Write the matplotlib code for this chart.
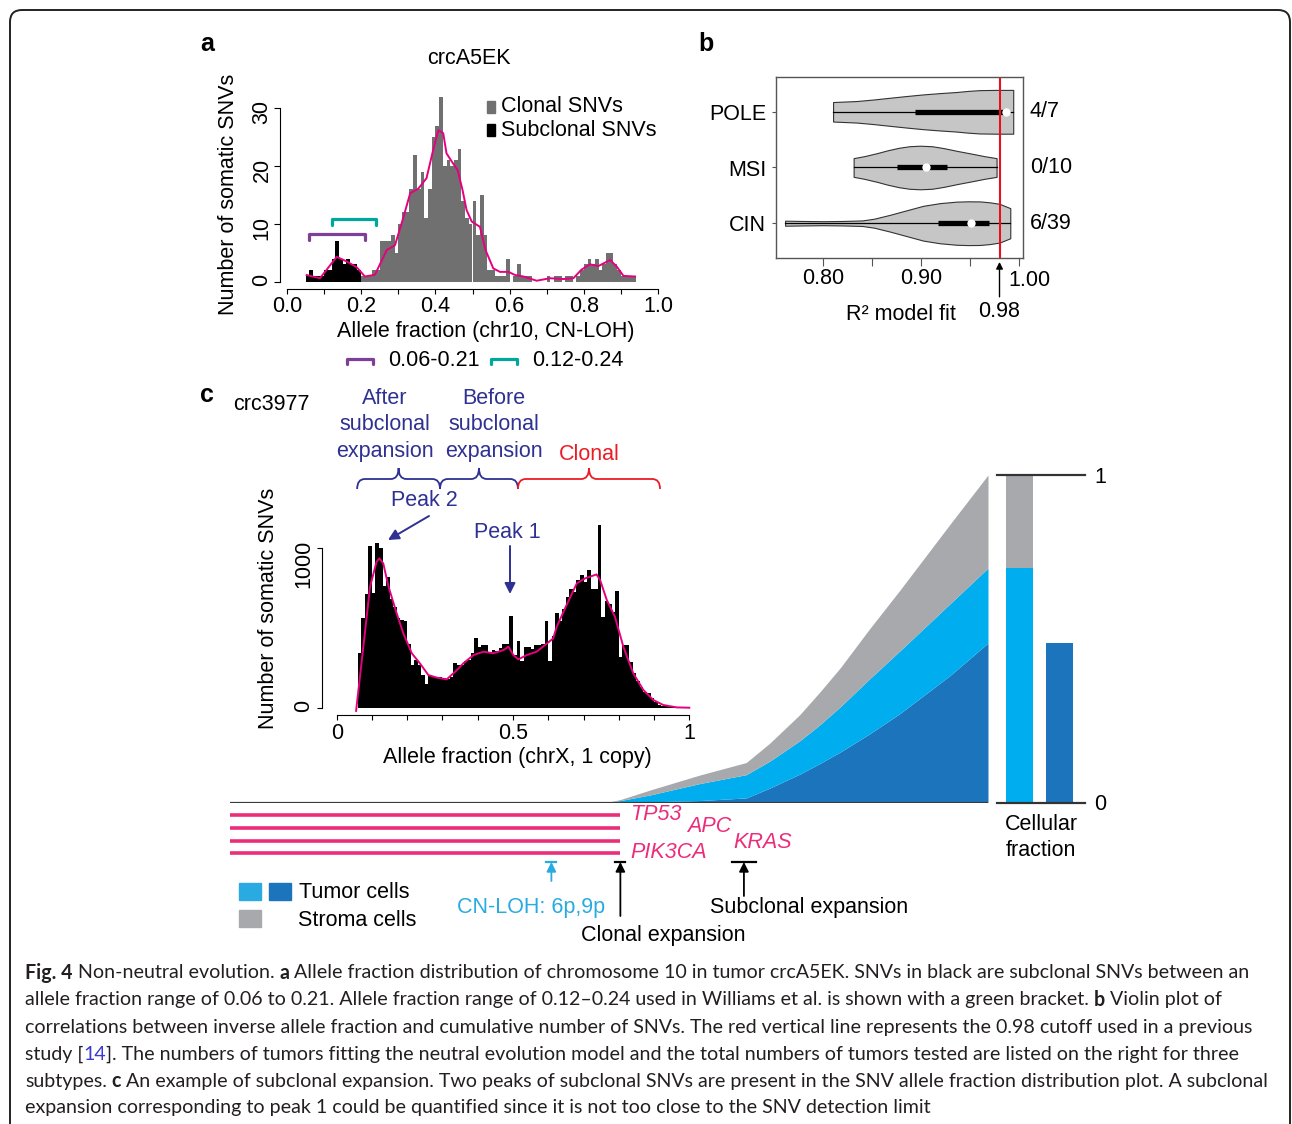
import numpy as np
import matplotlib
matplotlib.use("Agg")
import matplotlib.pyplot as plt
from matplotlib import font_manager
from matplotlib.path import Path
from matplotlib.patches import PathPatch, Rectangle, FancyBboxPatch
from matplotlib.transforms import blended_transform_factory

# ---------------- data ----------------
# a: crcA5EK, chr10 allele fraction histogram (bins of 0.01)
a_bin_width = 0.01
a_subclonal_start = 0.05
a_subclonal_counts = [1, 2, 1, 1, 1, 2, 2, 4, 7, 4, 3, 4, 3, 3, 2]
a_clonal_start = 0.20
a_clonal_counts = [1, 1, 1, 2, 2, 7, 7, 7, 8, 5,
                   10, 12, 12, 16, 22, 16, 19, 11, 16, 25,
                   27, 32, 20, 21, 20, 21, 23, 14, 11, 10,
                   14, 8, 15, 8, 2, 2, 1, 1, 1, 4,
                   0, 1, 3, 1, 1, 1, 0, 0, 0, 0,
                   1, 0, 1, 1, 0, 1, 1, 0, 1, 2,
                   3, 4, 3, 4, 2, 3, 5, 5, 3, 2,
                   1, 1, 1, 1]
a_density_x = [0.053, 0.089, 0.134, 0.161, 0.188, 0.210, 0.237, 0.269, 0.291, 0.314,
               0.332, 0.354, 0.376, 0.394, 0.408, 0.421, 0.430, 0.444, 0.460, 0.473,
               0.484, 0.498, 0.520, 0.535, 0.556, 0.574, 0.597, 0.615, 0.637, 0.673,
               0.709, 0.745, 0.772, 0.794, 0.817, 0.839, 0.871, 0.889, 0.907, 0.938]
a_density_y = [1.15, 0.6, 4.3, 3.5, 2.5, 0.9, 1.2, 5.5, 6.3, 11.2,
               15.3, 16.1, 17.9, 22.8, 26.2, 25.7, 22.2, 20.8, 19.3, 15.9,
               12.4, 10.4, 9.5, 5.5, 2.3, 1.7, 1.7, 1.15, 0.9, 0.17,
               0.6, 0.46, 0.6, 2.1, 3.0, 2.7, 3.75, 2.6, 1.0, 0.9]
a_range_labels = ["0.06-0.21", "0.12-0.24"]
a_range_lo = [0.06, 0.12]
a_range_hi = [0.21, 0.24]

# b: R^2 of the neutral model fit
b_groups = ["POLE", "MSI", "CIN"]
b_fit = ["4/7", "0/10", "6/39"]
pole_r2 = [0.810, 0.834, 0.851, 0.868, 0.885, 0.902, 0.919, 0.936, 0.948, 0.960, 0.977, 0.994]
pole_dens = [0.175, 0.193, 0.220, 0.252, 0.283, 0.312, 0.335, 0.355, 0.375, 0.389, 0.393, 0.393]
msi_r2 = [0.831, 0.842, 0.855, 0.866, 0.877, 0.888, 0.899, 0.911, 0.923, 0.937, 0.952, 0.965, 0.977]
msi_dens = [0.168, 0.204, 0.258, 0.310, 0.353, 0.382, 0.391, 0.382, 0.348, 0.297, 0.247, 0.202, 0.168]
cin_r2 = [0.761, 0.780, 0.800, 0.820, 0.840, 0.852, 0.868, 0.885, 0.902, 0.919, 0.936, 0.948,
          0.960, 0.970, 0.980, 0.991]
cin_dens = [0.045, 0.040, 0.036, 0.040, 0.050, 0.081, 0.150, 0.231, 0.312, 0.360, 0.387, 0.393,
            0.391, 0.375, 0.348, 0.270]
b_q1 = [0.894, 0.875, 0.9175]
b_median = [0.987, 0.905, 0.951]
b_q3 = [0.989, 0.926, 0.969]
b_cutoff = 0.98

# c: crc3977, chrX allele fraction histogram (bins of 0.01)
c_bin_width = 0.01
c_bin_start = 0.06
c_counts = [340, 560, 710, 1010, 715, 1030, 1000, 760, 820, 680,
            630, 560, 550, 545, 400, 265, 300, 265, 205, 150,
            205, 200, 195, 190, 185, 180, 190, 280, 270, 265,
            290, 300, 340, 435, 380, 390, 390, 350, 360, 355,
            375, 400, 400, 575, 330, 420, 290, 380, 380, 370,
            390, 395, 400, 540, 290, 450, 590, 540, 620, 695,
            745, 725, 800, 830, 785, 860, 745, 745, 1140, 570,
            670, 650, 600, 730, 320, 390, 390, 285, 215, 165,
            130, 100, 95, 60, 38, 20, 12, 8, 5, 4,
            3, 2, 2, 1]
c_density_x = [0.055, 0.0756, 0.0945, 0.113, 0.121, 0.132, 0.147, 0.170, 0.189, 0.213,
               0.236, 0.260, 0.284, 0.312, 0.336, 0.359, 0.388, 0.416, 0.444, 0.473,
               0.487, 0.501, 0.515, 0.539, 0.567, 0.591, 0.614, 0.624, 0.652, 0.681,
               0.704, 0.737, 0.747, 0.766, 0.789, 0.813, 0.841, 0.870, 0.898, 0.926,
               0.964, 1.0]
c_density_y = [-20, 381, 756, 912, 933, 902, 756, 590, 465, 340,
               277, 204, 188, 177, 225, 277, 329, 350, 340, 360,
               381, 329, 302, 329, 350, 392, 433, 506, 642, 777,
               808, 833, 798, 673, 569, 381, 215, 110, 48, 17,
               2, 0]
c_region_edges = [0.058, 0.293, 0.514, 0.917]
c_region_labels = [["After", "subclonal", "expansion"], ["Before", "subclonal", "expansion"], ["Clonal"]]

# clonal evolution schematic (cellular fraction over time)
evo_time = [0.0, 0.496, 0.515, 0.554, 0.620, 0.681, 0.712, 0.752, 0.778, 0.805, 0.844, 0.884, 0.950, 1.0]
evo_total = [0, 0, 0.009, 0.038, 0.084, 0.122, 0.181, 0.269, 0.337, 0.411, 0.531, 0.649, 0.85, 1.0]
evo_tumor = [0, 0, 0.006, 0.023, 0.058, 0.085, 0.126, 0.189, 0.237, 0.292, 0.378, 0.4635, 0.607, 0.716]
evo_subclone = [0, 0, 0, 0.002, 0.006, 0.014, 0.044, 0.087, 0.119, 0.154, 0.21, 0.272, 0.388, 0.487]
cnloh_time = 0.424
clonal_time = 0.515
subclonal_time = 0.678

# ---------------- style ----------------
W, H = 1292, 1124
FS = 15.5
MAGENTA = "#e5007e"
NAVY = "#2e3192"
RED = "#ed1c24"
LIGHT_BLUE = "#00aeef"
DARK_BLUE = "#1c75bc"
STROMA = "#a7a9ac"
PINK = "#ec2d7a"
CYAN = "#29abe2"

plt.rcParams['font.family'] = ['Liberation Sans', 'DejaVu Sans']
available = {f.name for f in font_manager.fontManager.ttflist}
cap_font = next(f for f in ["Lato", "Open Sans", "Liberation Sans"] if f in available)

fig = plt.figure(figsize=(W / 100, H / 100), dpi=100)


def px_axes(left, top, right, bottom):
    ax = fig.add_axes([left / W, 1 - bottom / H, (right - left) / W, (bottom - top) / H])
    ax.patch.set_alpha(0)
    return ax


def pt(p):
    return p * 72 / 100


# ---------------- panel a ----------------
axa = px_axes(287, 90, 658, 281.7)
sub_edges = a_subclonal_start + a_bin_width * np.arange(len(a_subclonal_counts))
clo_edges = a_clonal_start + a_bin_width * np.arange(len(a_clonal_counts))
axa.bar(clo_edges, a_clonal_counts, width=a_bin_width, align='edge', color='#707070', lw=0)
axa.bar(sub_edges, a_subclonal_counts, width=a_bin_width, align='edge', color='black', lw=0)
axa.plot(a_density_x, a_density_y, color=MAGENTA, lw=1.4)
for lo, hi, yv, col in zip(a_range_lo, a_range_hi, [8.25, 10.8], ["#7e3f98", "#00a79d"]):
    axa.plot([lo, lo, hi, hi], [yv - 1, yv, yv, yv - 1], color=col, lw=pt(3.2),
             solid_joinstyle='round', solid_capstyle='round')
axa.set_xlim(0, 1)
axa.set_ylim(0, (281.7 - 90) / 5.78)
for s in ['top', 'right']:
    axa.spines[s].set_visible(False)
axa.spines['left'].set_position(('outward', pt(7)))
axa.spines['bottom'].set_position(('outward', pt(7.3)))
axa.spines['left'].set_bounds(0, 30)
axa.spines['bottom'].set_bounds(0, 1)
axa.set_yticks([0, 10, 20, 30])
axa.set_xticks([i / 10 for i in range(11)])
axa.set_xticklabels(['0.0', '', '0.2', '', '0.4', '', '0.6', '', '0.8', '', '1.0'])
axa.tick_params(axis='y', labelrotation=90, length=pt(6), labelsize=FS, pad=pt(1.5))
axa.tick_params(axis='x', length=pt(5), labelsize=FS, pad=pt(2))

# ---------------- panel b ----------------
axb = px_axes(776, 76.7, 1023.3, 258.3)
for i, (r2, dens) in enumerate([(pole_r2, pole_dens), (msi_r2, msi_dens), (cin_r2, cin_dens)]):
    pos = i + 1
    r2 = np.array(r2)
    dens = np.array(dens)
    axb.fill_between(r2, pos - dens, pos + dens, facecolor='#c6c6c6', edgecolor='#333333', lw=0.8)
    axb.plot([r2[0], r2[-1]], [pos, pos], color='black', lw=0.9)
    axb.plot([b_q1[i], b_q3[i]], [pos, pos], color='black', lw=3.8, solid_capstyle='butt')
    axb.plot(b_median[i], pos, 'o', color='white', ms=6, mec='none', zorder=5)
    axb.text(1.027, pos, b_fit[i], transform=blended_transform_factory(axb.transAxes, axb.transData),
             fontsize=FS, ha='left', va='center')
axb.axvline(b_cutoff, color='#e8101a', lw=1.5)
axb.set_xlim(0.7517, 1.0043)
axb.set_ylim(3.63, 0.37)
for s in axb.spines.values():
    s.set_color('#555555')
    s.set_linewidth(1)
axb.set_xticks([0.80, 0.85, 0.90, 0.95, 1.00])
axb.set_xticklabels(['0.80', '', '0.90', '', ''])
axb.set_yticks([1, 2, 3])
axb.set_yticklabels(b_groups)
axb.tick_params(axis='x', length=pt(8), labelsize=FS, pad=pt(2), color='#555555')
axb.tick_params(axis='y', length=pt(4), labelsize=FS, pad=pt(6), color='#555555')
axb.annotate('0.98', xy=(b_cutoff, -0.02), xycoords=('data', 'axes fraction'),
             xytext=(b_cutoff, -0.235), textcoords=('data', 'axes fraction'),
             fontsize=FS, ha='center', va='top',
             arrowprops=dict(arrowstyle='-|>', color='black', lw=1, shrinkA=1, shrinkB=0,
                             mutation_scale=10))

# ---------------- panel c histogram ----------------
axc = px_axes(336.7, 520, 689.3, 707.7)
c_edges = c_bin_start + c_bin_width * np.arange(len(c_counts))
axc.bar(c_edges, c_counts, width=c_bin_width, align='edge', color='black', lw=0)
axc.plot(c_density_x, c_density_y, color=MAGENTA, lw=1.4, clip_on=False)
axc.set_xlim(0, 1)
axc.set_ylim(0, (707.7 - 520) / 0.16)
for s in ['top', 'right']:
    axc.spines[s].set_visible(False)
axc.spines['left'].set_position(('outward', pt(15)))
axc.spines['bottom'].set_position(('outward', pt(7.3)))
axc.spines['left'].set_bounds(0, 1000)
axc.spines['bottom'].set_bounds(0, 1)
axc.set_yticks([0, 1000])
axc.set_xticks([i / 10 for i in range(11)])
axc.set_xticklabels(['0', '', '', '', '', '0.5', '', '', '', '', '1'])
axc.tick_params(axis='y', labelrotation=90, length=pt(5), labelsize=FS, pad=pt(2.5))
axc.tick_params(axis='x', length=pt(5), labelsize=FS, pad=pt(3))

# ---------------- evolution schematic ----------------
axe = px_axes(230, 475, 988, 802.5)
axe.fill_between(evo_time, 0, evo_subclone, color=DARK_BLUE, lw=0)
axe.fill_between(evo_time, evo_subclone, evo_tumor, color=LIGHT_BLUE, lw=0)
axe.fill_between(evo_time, evo_tumor, evo_total, color=STROMA, lw=0)
axe.axhline(0, color='#3a3a3a', lw=pt(2.2))
axe.set_xlim(0, 1)
axe.set_ylim(0, 1)
axe.axis('off')

axf = px_axes(997, 475, 1085, 802.5)
axf.bar(0, evo_tumor[-1], width=0.675, color=LIGHT_BLUE)
axf.bar(0, evo_total[-1] - evo_tumor[-1], bottom=evo_tumor[-1], width=0.675, color=STROMA)
axf.bar(1, evo_subclone[-1], width=0.675, color=DARK_BLUE)
axf.axhline(0, color='#333333', lw=pt(2.2), clip_on=False)
axf.axhline(1, color='#333333', lw=pt(2.2), clip_on=False)
axf.set_xlim(-0.5625, 1.6375)
axf.set_ylim(0, 1)
for s in axf.spines.values():
    s.set_visible(False)
axf.set_xticks([])
axf.yaxis.tick_right()
axf.set_yticks([0, 1])
axf.set_yticklabels(['0', '1'])
axf.tick_params(axis='y', length=0, labelsize=FS, pad=pt(9))

# ---------------- overlay (pixel coordinates) ----------------
ov = fig.add_axes([0, 0, 1, 1])
ov.set_xlim(0, W)
ov.set_ylim(H, 0)
ov.axis('off')
ov.patch.set_alpha(0)

ov.add_patch(FancyBboxPatch((10, 10), 1280, 1140, boxstyle='round,pad=0,rounding_size=12',
                            fc='none', ec='#222222', lw=1.4, clip_on=False))


def T(x, y, s, **kw):
    kw.setdefault('fontsize', FS)
    kw.setdefault('ha', 'center')
    kw.setdefault('va', 'center')
    return ov.text(x, y, s, **kw)


# panel labels
T(207, 44, 'a', fontsize=18, fontweight='bold')
T(706, 44, 'b', fontsize=18, fontweight='bold')
T(207, 395, 'c', fontsize=18, fontweight='bold')

# panel a texts
T(469, 58, 'crcA5EK')
ov.add_patch(Rectangle((487, 101), 8, 12, color='#707070'))
ov.add_patch(Rectangle((487, 124), 8, 12, color='black'))
T(501, 107, 'Clonal SNVs', ha='left')
T(501, 130, 'Subclonal SNVs', ha='left')
T(229, 194, 'Number of somatic SNVs', rotation=90)
T(486, 332, 'Allele fraction (chr10, CN-LOH)')
for x0, col, lab in zip([347, 491], ["#7e3f98", "#00a79d"], a_range_labels):
    ov.plot([x0, x0, x0 + 26, x0 + 26], [364, 359, 359, 364], color=col, lw=pt(3.2),
            solid_joinstyle='round', solid_capstyle='round')
    T(x0 + 41, 361, lab, ha='left')

# panel b texts
T(1029, 280, '1.00')
T(901, 314, 'R² model fit')

# panel c texts
T(233, 405, 'crc3977', ha='left')
xb = blended_transform_factory(axc.transData, ov.transData)
label_x = [385, 494, 589]
for i, (lo, hi) in enumerate(zip(c_region_edges[:-1], c_region_edges[1:])):
    col = RED if i == 2 else NAVY
    xm = (lo + hi) / 2
    r = 0.022
    verts = [(lo, 489), (lo, 479), (lo + r, 479), (xm - r, 479), (xm, 479), (xm, 468),
             (xm, 479), (xm + r, 479), (hi - r, 479), (hi, 479), (hi, 489)]
    codes = [Path.MOVETO, Path.CURVE3, Path.CURVE3, Path.LINETO, Path.CURVE3, Path.CURVE3,
             Path.CURVE3, Path.CURVE3, Path.LINETO, Path.CURVE3, Path.CURVE3]
    ov.add_patch(PathPatch(Path(verts, codes), transform=xb, fc='none', ec=col, lw=1.3))
    lines = c_region_labels[i]
    ys = [455] if len(lines) == 1 else [398, 424, 451]
    for s, yy in zip(lines, ys):
        T(label_x[i], yy, s, color=col)

T(424, 500, 'Peak 2', color=NAVY)
T(507, 533, 'Peak 1', color=NAVY)
ov.annotate('', xy=(388, 540), xytext=(429, 516),
            arrowprops=dict(arrowstyle='-|>', color=NAVY, lw=1.4, shrinkA=0, shrinkB=0, mutation_scale=16))
ov.annotate('', xy=(510, 594), xytext=(510, 546),
            arrowprops=dict(arrowstyle='-|>', color=NAVY, lw=1.4, shrinkA=0, shrinkB=0, mutation_scale=16))
T(268, 608, 'Number of somatic SNVs', rotation=90)
T(517, 757, 'Allele fraction (chrX, 1 copy)')

# evolution: driver lines, events
xe = blended_transform_factory(axe.transData, ov.transData)
for yy in [815, 828, 840.5, 852.5]:
    ov.plot([0, clonal_time], [yy, yy], transform=xe, color=PINK, lw=pt(3.6), solid_capstyle='butt')
T(630, 815, 'TP53', ha='left', color=PINK, style='italic')
T(687, 826, 'APC', ha='left', color=PINK, style='italic')
T(733, 842, 'KRAS', ha='left', color=PINK, style='italic')
T(630, 853, 'PIK3CA', ha='left', color=PINK, style='italic')

for tt, ybot, half, col in [(cnloh_time, 881, 5, CYAN), (clonal_time, 916, 5, 'black'),
                            (subclonal_time, 896, 12, 'black')]:
    ov.annotate('', xy=(tt, 862), xytext=(tt, ybot), xycoords=xe, textcoords=xe,
                arrowprops=dict(arrowstyle='-|>', color=col, lw=1.3, shrinkA=0, shrinkB=0,
                                mutation_scale=14))
    xpx = axe.transData.transform((tt, 0))[0]
    ov.plot([xpx - half, xpx + half], [862, 862], color=col, lw=1.6)

T(531, 907, 'CN-LOH: 6p,9p', color=CYAN)
T(663, 936, 'Clonal expansion')
T(809, 908, 'Subclonal expansion')
T(1041, 824, 'Cellular')
T(1041, 851, 'fraction')

ov.add_patch(Rectangle((239, 883), 22, 17, color=CYAN))
ov.add_patch(Rectangle((269, 883), 22, 17, color=DARK_BLUE))
ov.add_patch(Rectangle((239, 910), 22, 17, color=STROMA))
T(299, 892, 'Tumor cells', ha='left')
T(298, 920, 'Stroma cells', ha='left')

# ---------------- caption ----------------
caption = [
    [("Fig. 4", 'b'), (" Non-neutral evolution. ", 'r'), ("a", 'b'),
     (" Allele fraction distribution of chromosome 10 in tumor crcA5EK. SNVs in black are subclonal SNVs between an", 'r')],
    [("allele fraction range of 0.06 to 0.21. Allele fraction range of 0.12\u20130.24 used in Williams et al. is shown with a green bracket. ", 'r'),
     ("b", 'b'), (" Violin plot of", 'r')],
    [("correlations between inverse allele fraction and cumulative number of SNVs. The red vertical line represents the 0.98 cutoff used in a previous", 'r')],
    [("study [", 'r'), ("14", 'l'),
     ("]. The numbers of tumors fitting the neutral evolution model and the total numbers of tumors tested are listed on the right for three", 'r')],
    [("subtypes. ", 'r'), ("c", 'b'),
     (" An example of subclonal expansion. Two peaks of subclonal SNVs are present in the SNV allele fraction distribution plot. A subclonal", 'r')],
    [("expansion corresponding to peak 1 could be quantified since it is not too close to the SNV detection limit", 'r')],
]
cap_y = [973, 1000, 1027, 1054, 1081, 1107]
styles = {'r': dict(color='#231f20'), 'b': dict(color='#231f20', fontweight='bold'),
          'l': dict(color='#3b3bd0')}
renderer = fig.canvas.get_renderer()


def width_of(s, size, **kw):
    t = ov.text(0, 0, s, fontsize=size, family=cap_font, **kw)
    w = t.get_window_extent(renderer).width
    t.remove()
    return w


def rich_line(y, chunks, size, measure=False):
    x = 25.0
    sp = width_of('a a', size) - width_of('aa', size)
    for s, st in chunks:
        core = s.strip(' ')
        lead = len(s) - len(s.lstrip(' '))
        trail = len(s) - len(s.rstrip(' '))
        x += lead * sp
        if measure:
            x += width_of(core, size, **styles[st])
        else:
            t = ov.text(x, y, core, fontsize=size, family=cap_font, ha='left', va='center', **styles[st])
            x += t.get_window_extent(renderer).width
        x += trail * sp
    return x


w_base = rich_line(0, caption[0], 12, measure=True) - 25
cap_size = 12 * (1245 - 25) / w_base
for y, chunks in zip(cap_y, caption):
    rich_line(y, chunks, cap_size)

fig.savefig('out.png', dpi=100)
